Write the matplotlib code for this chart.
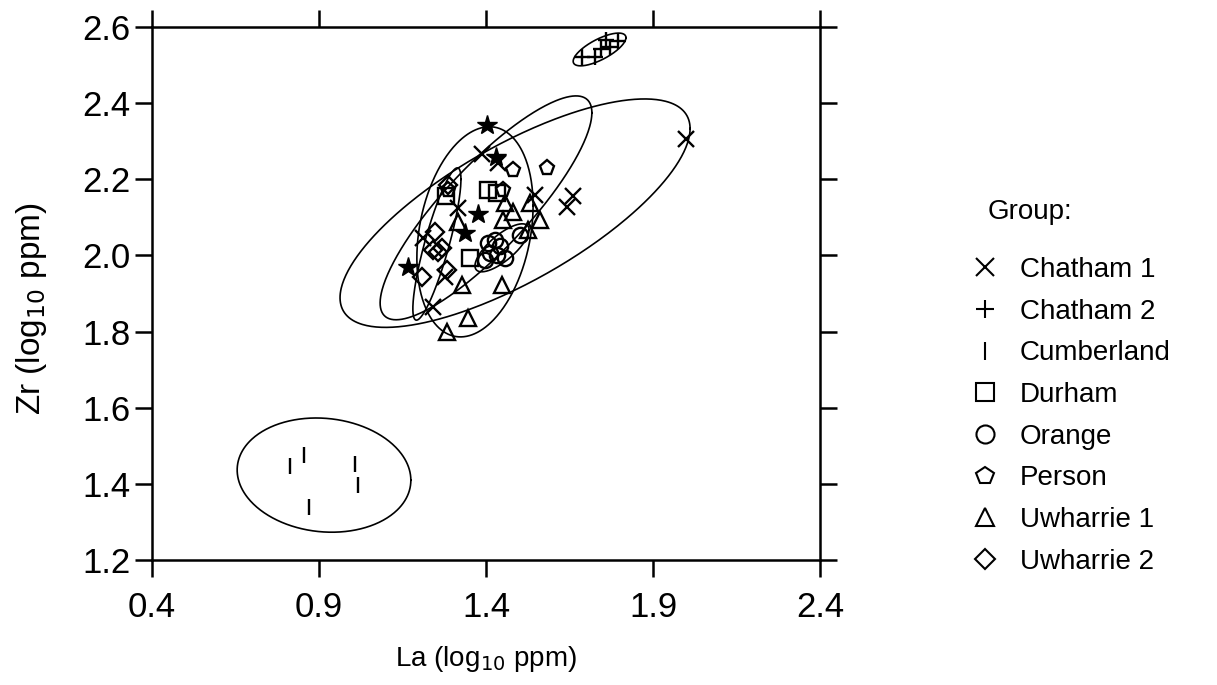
import numpy as np
import matplotlib
matplotlib.use("Agg")
import matplotlib.pyplot as plt
from matplotlib.lines import Line2D

plt.rcParams['font.family'] = ['Liberation Sans', 'DejaVu Sans']

# ---- data (log10 ppm) ----
groups = ["Chatham 1", "Chatham 2", "Cumberland", "Durham", "Orange",
          "Person", "Uwharrie 1", "Uwharrie 2"]
markers = ["x", "+", "|", "s", "o", "p", "^", "D"]

chatham1_la = [1.999, 1.660, 1.643, 1.547, 1.211, 1.277, 1.241, 1.316, 1.388, 1.436]
chatham1_zr = [2.306, 2.156, 2.127, 2.159, 2.046, 1.943, 1.865, 2.125, 2.266, 2.243]

chatham2_la = [1.687, 1.726, 1.744, 1.771, 1.759, 1.796]
chatham2_zr = [2.521, 2.521, 2.542, 2.548, 2.566, 2.563]

cumberland_la = [0.813, 0.855, 1.008, 1.017, 0.870]
cumberland_zr = [1.447, 1.476, 1.452, 1.397, 1.339]

durham_la = [1.280, 1.352, 1.406, 1.433]
durham_zr = [2.156, 1.993, 2.172, 2.164]

orange_la = [1.406, 1.427, 1.442, 1.412, 1.433, 1.457, 1.397, 1.502]
orange_zr = [2.033, 2.041, 2.025, 2.006, 2.001, 1.993, 1.988, 2.054]

person_la = [1.481, 1.583, 1.451, 1.286]
person_zr = [2.224, 2.230, 2.172, 2.172]

uwharrie1_la = [1.328, 1.346, 1.283, 1.316, 1.448, 1.457, 1.481, 1.451, 1.532, 1.562, 1.526]
uwharrie1_zr = [1.922, 1.836, 1.799, 2.088, 1.922, 2.138, 2.114, 2.093, 2.138, 2.093, 2.067]

uwharrie2_la = [1.247, 1.241, 1.256, 1.268, 1.208, 1.283, 1.286]
uwharrie2_zr = [2.062, 2.014, 2.009, 2.020, 1.943, 1.962, 2.185]

unassigned_la = [1.403, 1.166, 1.337, 1.376, 1.430]
unassigned_zr = [2.343, 1.970, 2.059, 2.109, 2.258]

# confidence ellipses: centre, half-extent in La, half-extent in Zr, correlation
ell_cx = [1.487, 1.740, 0.915, 1.253, 1.448, 1.400, 1.367]
ell_cy = [2.111, 2.541, 1.423, 2.030, 2.020, 2.125, 2.062]
ell_sx = [0.524, 0.079, 0.260, 0.072, 0.081, 0.317, 0.174]
ell_sy = [0.300, 0.043, 0.150, 0.200, 0.063, 0.294, 0.276]
ell_r = [0.74, 0.72, -0.09, 0.85, 0.75, 0.85, 0.25]

series_la = [chatham1_la, chatham2_la, cumberland_la, durham_la, orange_la,
             person_la, uwharrie1_la, uwharrie2_la]
series_zr = [chatham1_zr, chatham2_zr, cumberland_zr, durham_zr, orange_zr,
             person_zr, uwharrie1_zr, uwharrie2_zr]

x_ticks = [0.4, 0.9, 1.4, 1.9, 2.4]
y_ticks = [1.2, 1.4, 1.6, 1.8, 2.0, 2.2, 2.4, 2.6]

# ---- figure ----
W, H = 1217, 685
fig = plt.figure(figsize=(W / 100, H / 100), dpi=100)
ax = fig.add_axes([152 / W, (H - 560) / H, (820 - 152) / W, (560 - 27) / H])

t = np.linspace(0, 2 * np.pi, 400)
for cx, cy, sx, sy, r in zip(ell_cx, ell_cy, ell_sx, ell_sy, ell_r):
    ex = cx + sx * np.cos(t)
    ey = cy + sy * (r * np.cos(t) + np.sqrt(1 - r * r) * np.sin(t))
    ax.plot(ex, ey, color='black', lw=1.2, zorder=2)

handles = []
for name, m, xs, ys in zip(groups, markers, series_la, series_zr):
    ms = 11 if m != 'D' else 9
    if m in ('x', '+', '|'):
        ax.plot(xs, ys, linestyle='none', marker=m, ms=ms, mew=1.7,
                color='black', zorder=3)
    else:
        ax.plot(xs, ys, linestyle='none', marker=m, ms=ms, mew=1.7,
                mfc='none', mec='black', zorder=3)
    handles.append(Line2D([], [], linestyle='none', marker=m,
                          ms=13 if m != 'D' else 10.5,
                          mew=1.5, mfc='none', mec='black', color='black'))

ax.plot(unassigned_la, unassigned_zr, linestyle='none', marker='*', ms=15,
        color='black', zorder=3)

ax.set_xlim(0.4, 2.4)
ax.set_ylim(1.2, 2.6)
ax.set_xticks(x_ticks)
ax.set_yticks(y_ticks)
ax.set_xticklabels([f"{v:.1f}" for v in x_ticks])
ax.set_yticklabels([f"{v:.1f}" for v in y_ticks])
ax.tick_params(direction='out', length=12.5, width=1.8, labelsize=25,
               top=True, right=True, pad=3, color='black')
ax.tick_params(axis='x', pad=10)
for s in ax.spines.values():
    s.set_linewidth(1.8)

ax.set_xlabel(r"La (log$_{10}$ ppm)", fontsize=20, labelpad=14)
ax.set_ylabel(r"Zr (log$_{10}$ ppm)", fontsize=24, labelpad=24)
ax.yaxis.label.set_y(0.472)

fig.text(988 / W, (H - 212) / H, "Group:", fontsize=20, ha='left', va='center')
leg = fig.legend(handles, groups, loc='upper left',
                 bbox_to_anchor=(971 / W, (H - 257) / H),
                 frameon=False, fontsize=20, borderpad=0, borderaxespad=0,
                 handlelength=1.0, handletextpad=0.76, labelspacing=0.565)

fig.savefig("out.png", dpi=100)
